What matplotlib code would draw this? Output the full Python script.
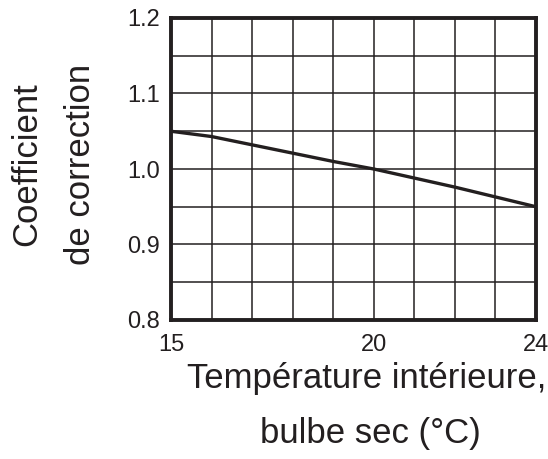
"""
Coefficient de correction vs température intérieure (bulbe sec)
"""
import numpy as np
import matplotlib.pyplot as plt

plt.rcParams['font.family'] = ['Liberation Sans', 'DejaVu Sans']

# Température intérieure, bulbe sec (°C)
temperature = [15, 16, 17, 18, 19, 20, 21, 22, 23, 24]
# Coefficient de correction
coefficient = [1.050, 1.043, 1.032, 1.021, 1.010, 1.000, 0.988, 0.976, 0.963, 0.950]
# Graduations
xticks = [15, 20, 24]
yticks = [0.8, 0.9, 1.0, 1.1, 1.2]
ytick_labels = ['0.8', '0.9', '1.0', '1.1', '1.2']

ink = '#231f20'

fig = plt.figure(figsize=(5.48, 4.59), dpi=100)
ax = fig.add_axes([171/548, 1-320/459, (536-171)/548, (320-18)/459])

# Grille
for xg in np.arange(15, 25, 1):
    ax.axvline(xg, color=ink, lw=1.1, zorder=1)
for yg in np.arange(0.8, 1.2001, 0.05):
    ax.axhline(yg, color=ink, lw=1.1, zorder=1)

ax.plot(temperature, coefficient, color=ink, lw=2.4, zorder=3)

ax.set_xlim(15, 24)
ax.set_ylim(0.8, 1.2)
ax.set_xticks(xticks)
ax.set_xticklabels([str(t) for t in xticks])
ax.set_yticks(yticks)
ax.set_yticklabels(ytick_labels)
ax.tick_params(length=0, labelsize=17, colors=ink)
ax.tick_params(axis='y', pad=8)
ax.tick_params(axis='x', pad=10)
for s in ax.spines.values():
    s.set_linewidth(2.8)
    s.set_color(ink)
    s.set_zorder(4)

# Titres des axes
fig.text(367/548, 1-388/459, 'Température intérieure,', fontsize=25,
         color=ink, ha='center', va='baseline')
fig.text(370/548, 1-443/459, 'bulbe sec (°C)', fontsize=25,
         color=ink, ha='center', va='baseline')
fig.text(27/548, 1-164/459, 'Coefficient', fontsize=25, color=ink,
         rotation=90, ha='center', va='center')
fig.text(80/548, 1-164/459, 'de correction', fontsize=25, color=ink,
         rotation=90, ha='center', va='center')

fig.savefig('out.png', dpi=100)
